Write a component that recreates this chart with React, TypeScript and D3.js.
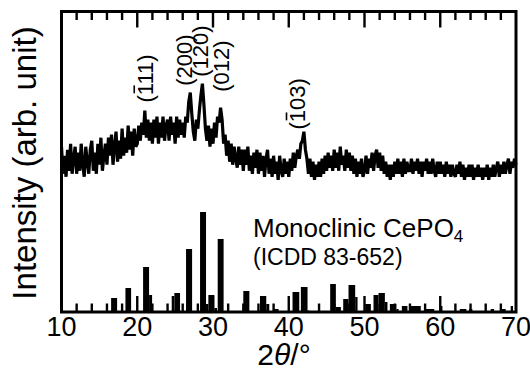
import React from "react";
import * as d3 from "d3";

// ---- data ----
const SCAN_START = 10;
const SCAN_STEP = 0.2;
const scanIntensity = [
  55, 46, 52, 45, 54, 47, 56, 46, 51, 55,
  46, 53, 47, 56, 49, 45, 55, 50, 46, 54,
  57, 47, 53, 46, 56, 49, 58, 47, 52, 56,
  49, 58, 52, 59, 49, 55, 60, 50, 57, 51,
  61, 52, 58, 53, 62, 54, 60, 52, 61, 55,
  56, 62, 57, 63, 59, 67, 58, 64, 57, 63,
  56, 64, 58, 65, 56, 63, 58, 65, 57, 62,
  64, 57, 65, 59, 63, 56, 65, 58, 64, 59,
  63, 58, 65, 63, 70, 73, 66, 60, 57, 64,
  61, 67, 72, 76, 69, 61, 57, 62, 55, 61,
  56, 63, 58, 65, 63, 68, 64, 56, 59, 52,
  57, 50, 56, 49, 55, 51, 48, 55, 49, 54,
  47, 54, 49, 55, 47, 52, 46, 53, 48, 54,
  46, 53, 47, 52, 45, 51, 54, 46, 51, 45,
  52, 46, 50, 44, 52, 47, 45, 51, 46, 50,
  45, 51, 47, 53, 48, 52, 54, 51, 56, 57,
  60, 54, 51, 46, 51, 45, 50, 44, 49, 45,
  50, 45, 51, 46, 52, 47, 53, 48, 52, 47,
  54, 48, 53, 47, 55, 49, 52, 47, 54, 48,
  53, 47, 52, 46, 51, 45, 50, 46, 51, 45,
  47, 52, 46, 51, 48, 53, 47, 52, 54, 48,
  53, 47, 52, 46, 50, 45, 49, 44, 49, 45,
  50, 46, 51, 46, 50, 45, 51, 46, 50, 47,
  47, 51, 46, 50, 47, 51, 46, 50, 45, 50,
  47, 51, 46, 50, 46, 51, 47, 45, 50, 46,
  50, 46, 49, 45, 50, 46, 49, 45, 49, 46,
  45, 49, 46, 50, 45, 49, 44, 48, 45, 49,
  45, 49, 44, 48, 45, 49, 45, 48, 44, 48,
  45, 49, 44, 48, 45, 49, 45, 48, 50, 45,
  49, 46, 50, 46, 49, 51, 46, 50, 48, 51,
  49,
];

// ICDD 83-652 reference lines: [2θ from, 2θ to, relative intensity]
const refFrom = [16.55, 18.44, 20.77, 21.56, 24.55, 24.9, 26.44, 28.29, 29.08, 29.39, 30.18, 30.62, 34.0, 36.2, 37.03, 37.96, 40.5, 41.6, 42.48, 45.47, 46.22, 47.19, 47.89, 48.77, 50.09, 51.19, 51.85, 52.69, 53.35, 54.22, 54.93, 55.98, 58.1, 59.94, 62.58, 63.8, 66.66, 67.98, 69.3];
const refTo = [17.34, 19.19, 21.56, 21.96, 24.9, 25.65, 27.24, 29.08, 29.39, 30.18, 30.53, 31.4, 34.8, 37.03, 37.43, 38.66, 41.39, 42.48, 42.7, 46.22, 46.88, 47.89, 48.77, 49.08, 50.84, 51.85, 52.69, 53.03, 54.22, 54.5, 55.67, 57.43, 59.2, 60.29, 63.45, 64.24, 67.1, 68.64, 69.6];
const refIntensity = [14, 24, 45, 17, 16, 19, 63, 100, 8, 17, 4, 73, 21, 16, 8, 3, 20, 25, 1.5, 28, 5, 13, 27, 15, 8, 17, 19, 10, 8, 3, 6, 6, 3, 6, 3, 3, 3, 3, 6];

const xTicks = [10, 20, 30, 40, 50, 60, 70];
const xMinorTicks = [12, 14, 16, 18, 22, 24, 26, 28, 32, 34, 36, 38, 42, 44, 46, 48, 52, 54, 56, 58, 62, 64, 66, 68];

const peakLabels = ["111", "200", "120", "012", "103"];
const peakLabelBar = [true, false, false, false, true];
const peakLabelX = [22.1, 27.2, 29.4, 32.1, 42.2];
const peakLabelY = [69.7, 75.3, 78.3, 73.3, 60.7];

const W = 530;
const H = 371;
const L = 61.5, R = 516, T = 11.5, B = 312;
const FONT = "'Liberation Sans', Arial, Helvetica, sans-serif";

export default function App() {
  const x = d3.scaleLinear().domain([10, 70]).range([L, R]);
  const y = d3.scaleLinear().domain([0, 100]).range([B, T]);
  const yRef = d3.scaleLinear().domain([0, 100]).range([B, B - 100]);

  const pts: [number, number][] = scanIntensity.map((v, i) => [SCAN_START + i * SCAN_STEP, v]);
  const line = d3
    .line<[number, number]>()
    .x((d) => x(d[0]))
    .y((d) => y(d[1]));

  const labFs = 22;

  return (
    <svg
      width={W}
      height={H}
      viewBox={`0 0 ${W} ${H}`}
      style={{ position: "absolute", left: 0, top: 0, background: "#fff" }}
      fontFamily={FONT}
    >
      <rect x={0} y={0} width={W} height={H} fill="#fff" />
      {/* reference bars */}
      {refFrom.map((f, i) => (
        <rect
          key={"b" + i}
          x={x(f)}
          y={yRef(refIntensity[i])}
          width={x(refTo[i]) - x(f)}
          height={B - yRef(refIntensity[i])}
          fill="#000"
        />
      ))}
      {/* scan */}
      <path d={line(pts) || ""} fill="none" stroke="#000" strokeWidth={3.2} strokeLinejoin="miter" strokeMiterlimit={2} />

      {/* ticks */}
      {xTicks.slice(1, -1).map((t) => (
        <g key={"M" + t}>
          <line x1={x(t)} x2={x(t)} y1={T} y2={T + 16} stroke="#000" strokeWidth={2.4} />
          <line x1={x(t)} x2={x(t)} y1={B} y2={B - 16} stroke="#000" strokeWidth={2.4} />
        </g>
      ))}
      {xMinorTicks.map((t) => (
        <g key={"m" + t}>
          <line x1={x(t)} x2={x(t)} y1={T} y2={T + 8.5} stroke="#000" strokeWidth={2.4} />
          <line x1={x(t)} x2={x(t)} y1={B} y2={B - 8.5} stroke="#000" strokeWidth={2.4} />
        </g>
      ))}
      {/* frame */}
      <rect x={L} y={T} width={R - L} height={B - T} fill="none" stroke="#000" strokeWidth={3} />

      {/* tick labels */}
      {xTicks.map((t) => (
        <text key={"l" + t} x={x(t)} y={336} textAnchor="middle" fontSize={27} fill="#000">
          {t}
        </text>
      ))}
      {/* axis titles */}
      <text x={284} y={365} textAnchor="middle" fontSize={30} fill="#000">
        2<tspan fontStyle="italic">θ</tspan>/°
      </text>
      <text
        transform={`translate(36,163) rotate(-90)`}
        textAnchor="middle"
        fontSize={33}
        fill="#000"
      >
        Intensity (arb. unit)
      </text>

      {/* peak labels */}
      {peakLabels.map((lab, i) => (
        <g key={"p" + i} transform={`translate(${x(peakLabelX[i])},${y(peakLabelY[i])}) rotate(-90)`}>
          <text x={0} y={0} fontSize={labFs} fill="#000">
            ({lab})
          </text>
          {peakLabelBar[i] && (
            <line
              x1={labFs * 0.42}
              x2={labFs * 0.78}
              y1={-labFs * 0.86}
              y2={-labFs * 0.86}
              stroke="#000"
              strokeWidth={1.6}
            />
          )}
        </g>
      ))}

      {/* phase label */}
      <text x={253} y={237} fontSize={26} fill="#000">
        Monoclinic CePO<tspan dy={5} fontSize={17}>4</tspan>
      </text>
      <text x={253} y={265} fontSize={23} fill="#000">
        (ICDD 83-652)
      </text>
    </svg>
  );
}
